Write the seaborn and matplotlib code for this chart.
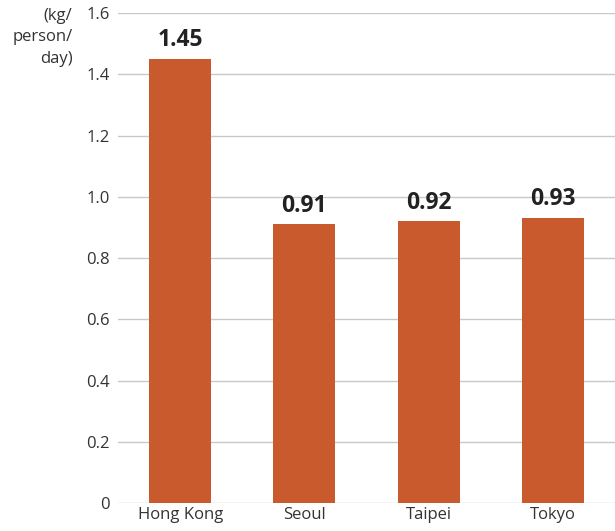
import matplotlib
matplotlib.use("Agg")
import matplotlib.pyplot as plt
import seaborn as sns
import pandas as pd

cities = ["Hong Kong", "Seoul", "Taipei", "Tokyo"]
values = [1.45, 0.91, 0.92, 0.93]
yticks = [0, 0.2, 0.4, 0.6, 0.8, 1.0, 1.2, 1.4, 1.6]
ytick_labels = ["0", "0.2", "0.4", "0.6", "0.8", "1.0", "1.2", "1.4", "1.6"]
unit_label = "(kg/\nperson/\nday)"

sns.set_style("white")
plt.rcParams["font.family"] = ["Open Sans", "DejaVu Sans"]

df = pd.DataFrame({"city": cities, "value": values})
fig = plt.figure(figsize=(6.15, 5.31), dpi=100)
ax = fig.add_axes([0.192, 0.0527, 0.808, 0.9228])
sns.barplot(data=df, x="city", y="value", color="#C85A2E", saturation=1, width=0.5,
            linewidth=0, ax=ax, zorder=3)

ax.set_ylim(0, 1.6)
ax.set_xlim(-0.5, 3.5)
ax.set_yticks(yticks)
ax.set_yticklabels(ytick_labels)
ax.yaxis.grid(True, color="#C8C8C8", linewidth=1)
ax.set_axisbelow(True)
for s in ax.spines.values():
    s.set_visible(False)
ax.tick_params(axis="both", length=0, labelsize=12, labelcolor="#333333")
ax.tick_params(axis="y", pad=6)
ax.tick_params(axis="x", pad=3)
ax.set_xlabel("")
ax.set_ylabel("")

for i, v in enumerate(values):
    ax.text(i, v + 0.022, f"{v:.2f}", ha="center", va="bottom", fontsize=16.5,
            fontweight="bold", color="#222222")

fig.text(0.118, 0.985, unit_label, ha="right", va="top", fontsize=12, color="#333333", linespacing=1.45)

fig.savefig("out.png", dpi=100)
